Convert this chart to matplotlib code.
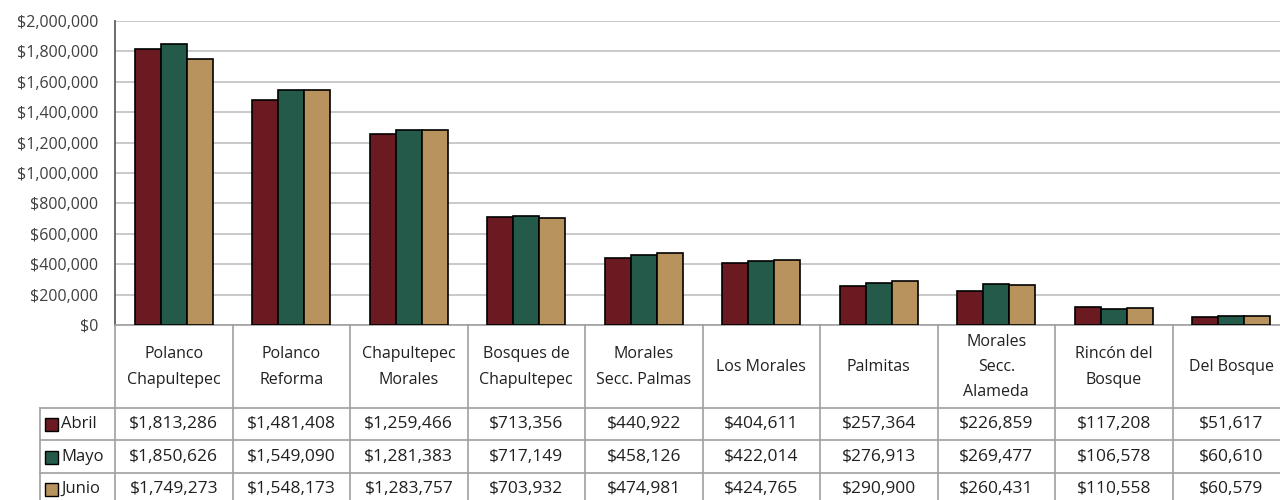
import matplotlib
matplotlib.use("Agg")
import matplotlib.pyplot as plt
import matplotlib.transforms as mtransforms
from matplotlib.patches import Rectangle
from matplotlib.ticker import FuncFormatter, MultipleLocator

colonias = ["Polanco\nChapultepec", "Polanco\nReforma", "Chapultepec\nMorales",
            "Bosques de\nChapultepec", "Morales\nSecc. Palmas", "Los Morales",
            "Palmitas", "Morales\nSecc.\nAlameda", "Rincón del\nBosque", "Del Bosque"]
abril = [1813286, 1481408, 1259466, 713356, 440922, 404611, 257364, 226859, 117208, 51617]
mayo = [1850626, 1549090, 1281383, 717149, 458126, 422014, 276913, 269477, 106578, 60610]
junio = [1749273, 1548173, 1283757, 703932, 474981, 424765, 290900, 260431, 110558, 60579]
meses = ["Abril", "Mayo", "Junio"]
colores = ["#6A1A20", "#235A4A", "#B8935E"]

plt.rcParams['font.family'] = ['Open Sans', 'DejaVu Sans']

W, H = 1280, 500
fig = plt.figure(figsize=(12.8, 5), dpi=100)
# plot area in pixels: left 115, right 1290 (clipped), $0 at y=325, top at y=21
ax = fig.add_axes([115 / W, (H - 325) / H, (1290 - 115) / W, (325 - 21) / H])

series = [abril, mayo, junio]
bw = 0.22
for i, (vals, c) in enumerate(zip(series, colores)):
    xs = [k + (i - 1) * bw for k in range(len(vals))]
    ax.bar(xs, vals, width=bw, color=c, edgecolor="black", linewidth=1.2, zorder=3)

ax.set_xlim(-0.5, len(colonias) - 0.5)
ax.set_ylim(0, 2000000)
ax.yaxis.set_major_locator(MultipleLocator(200000))
ax.yaxis.set_major_formatter(FuncFormatter(lambda v, p: f"${v:,.0f}"))
ax.tick_params(axis="y", length=0, labelsize=11.5, colors="#404040", pad=12)
ax.set_xticks([])
ax.grid(axis="y", color="#C0C0C0", linewidth=1.2, zorder=0)
for s in ["top", "right"]:
    ax.spines[s].set_visible(False)
ax.spines["left"].set_color("#606060")
ax.spines["left"].set_linewidth(1.3)
ax.spines["bottom"].set_color("#A0A0A0")
ax.spines["bottom"].set_linewidth(1.2)

# data table below the axes (x in data, y in axes units)
trans = mtransforms.blended_transform_factory(ax.transData, ax.transAxes)
def ay(py):
    return (325 - py) / 304.0

line_kw = dict(color="#A0A0A0", linewidth=1.2, transform=trans, clip_on=False)
row_lines = [408, 440, 473, 505]
x_lab = -0.5 - 75 / 117.5
for k in range(len(colonias) + 1):
    ax.plot([k - 0.5, k - 0.5], [ay(325), ay(505)], **line_kw)
for py in row_lines:
    ax.plot([x_lab, len(colonias) - 0.5], [ay(py), ay(py)], **line_kw)
ax.plot([x_lab, x_lab], [ay(408), ay(505)], **line_kw)

for k, name in enumerate(colonias):
    ax.text(k, ay(367), name, transform=trans, ha="center", va="center",
            fontsize=11.5, color="#202020", linespacing=1.75, clip_on=False)

row_centers = [424, 457, 489]
for vals, mes, c, py in zip(series, meses, colores, row_centers):
    ax.add_patch(Rectangle((x_lab + 5 / 117.5, ay(py) - 6.5 / 304), 13 / 117.5, 13 / 304,
                           transform=trans, facecolor=c, edgecolor="black",
                           linewidth=1.0, clip_on=False))
    ax.text(x_lab + 21 / 117.5, ay(py), mes, transform=trans, ha="left", va="center",
            fontsize=12, color="#202020", clip_on=False)
    for k, v in enumerate(vals):
        ax.text(k, ay(py), f"${v:,}", transform=trans, ha="center", va="center",
                fontsize=12.5, color="#202020", clip_on=False)

fig.savefig("out.png", dpi=100)
